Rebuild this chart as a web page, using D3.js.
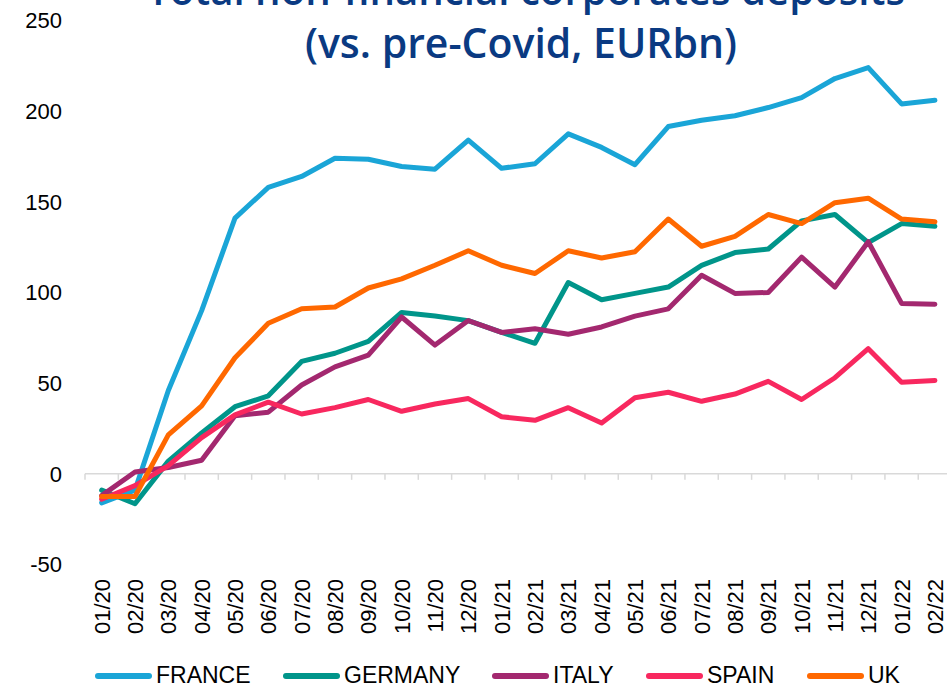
<!DOCTYPE html>
<html>
<head>
<meta charset="utf-8">
<script src="https://cdn.jsdelivr.net/npm/d3@7"></script>
<style>
  html, body { margin: 0; padding: 0; background: #fff; }
  #chart { width: 947px; height: 686px; overflow: hidden; }
</style>
</head>
<body>
<div id="chart"></div>
<script>
// Data (EURbn vs. pre-Covid)
const months = ["01/20","02/20","03/20","04/20","05/20","06/20","07/20","08/20","09/20","10/20","11/20","12/20",
                "01/21","02/21","03/21","04/21","05/21","06/21","07/21","08/21","09/21","10/21","11/21","12/21",
                "01/22","02/22"];
const seriesNames = ["FRANCE", "GERMANY", "ITALY", "SPAIN", "UK"];
const france  = [-16, -9, 46, 90, 141, 158, 164, 174, 173.5, 169.5, 168, 184, 168.5, 171, 187.5, 180, 170.5, 191.5, 195, 197.5, 202, 207.5, 218, 224, 204, 206];
const germany = [-9, -16.5, 7, 22.5, 37, 43, 62, 66.5, 73, 89, 87, 84.5, 78, 72, 105.5, 96, 99.5, 103, 115, 122, 124, 139.5, 143, 127.5, 138, 136.5];
const italy   = [-12, 1, 3.5, 7.5, 32, 34, 49, 59, 65.5, 86.5, 71, 84.5, 78, 80, 77, 81, 87, 91, 109.5, 99.5, 100, 119.5, 103, 128, 94, 93.5];
const spain   = [-14, -6.5, 4.5, 20, 32.5, 39.5, 33, 36.5, 41, 34.5, 38.5, 41.5, 31.5, 29.5, 36.5, 28, 42, 45, 40, 44, 51, 41, 53, 69, 50.5, 51.5];
const uk      = [-12.5, -12.5, 21.5, 37.5, 64, 83, 91, 92, 102.5, 107.5, 115, 123, 115, 110.5, 123, 119, 122.5, 140.5, 125.5, 131, 143, 138, 149.5, 152, 140.5, 139];
const yTicks = [-50, 0, 50, 100, 150, 200, 250];
const titleLines = ["Total non-financial corporates deposits", "(vs. pre-Covid, EURbn)"];

const seriesValues = [france, germany, italy, spain, uk];
const colors = ["#1aa5d7", "#00958a", "#a3286f", "#f8285f", "#ff6800"];

const width = 947, height = 686;

const svg = d3.select("#chart")
    .append("svg")
    .attr("width", width)
    .attr("height", height)
    .attr("viewBox", `0 0 ${width} ${height}`);

const x = d3.scaleBand()
    .domain(months)
    .range([85, 85 + months.length * 33.33])
    .paddingInner(0)
    .paddingOuter(0);

const y = d3.scaleLinear()
    .domain([-50, 250])
    .range([564.5, 20.5]);

const xc = d => x(d) + x.bandwidth() / 2;

// Title (the top line is clipped by the frame in the original)
svg.append("g")
    .selectAll("text")
    .data(titleLines)
    .join("text")
    .attr("x", (d, i) => i === 0 ? 526 : 521)
    .attr("y", (d, i) => i === 0 ? 5 : 58)
    .attr("text-anchor", "middle")
    .attr("font-family", "'Open Sans', 'Noto Sans', sans-serif")
    .attr("font-weight", 600)
    .attr("font-size", "41px")
    .attr("fill", "#0a3a82")
    .attr("textLength", (d, i) => i === 0 ? 758 : 432)
    .attr("lengthAdjust", "spacingAndGlyphs")
    .text(d => d);

// Y axis labels only
svg.append("g")
    .selectAll("text")
    .data(yTicks)
    .join("text")
    .attr("x", 62)
    .attr("y", d => y(d))
    .attr("dy", "0.36em")
    .attr("text-anchor", "end")
    .attr("font-family", "'Liberation Sans', Arial, sans-serif")
    .attr("font-size", "22px")
    .attr("fill", "#000")
    .text(d => d);

// Zero axis line with category boundary ticks
const axisG = svg.append("g").attr("transform", `translate(0,${y(0)})`);
axisG.append("line")
    .attr("x1", x.range()[0])
    .attr("x2", x.range()[1])
    .attr("stroke", "#d9d9d9")
    .attr("stroke-width", 1.5);
axisG.selectAll("line.tick")
    .data(months.concat(["end"]))
    .join("line")
    .attr("class", "tick")
    .attr("x1", (d, i) => x.range()[0] + i * x.step())
    .attr("x2", (d, i) => x.range()[0] + i * x.step())
    .attr("y1", 0)
    .attr("y2", 6)
    .attr("stroke", "#d9d9d9")
    .attr("stroke-width", 1.5);

// X labels, rotated
svg.append("g")
    .selectAll("text")
    .data(months)
    .join("text")
    .attr("transform", d => `translate(${xc(d) + 8},579) rotate(-90)`)
    .attr("text-anchor", "end")
    .attr("font-family", "'Liberation Sans', Arial, sans-serif")
    .attr("font-size", "22px")
    .attr("fill", "#000")
    .text(d => d);

// Series lines
const line = d3.line()
    .x((d, i) => xc(months[i]))
    .y(d => y(d));

svg.append("g")
    .selectAll("path")
    .data(seriesValues)
    .join("path")
    .attr("d", d => line(d))
    .attr("fill", "none")
    .attr("stroke", (d, i) => colors[i])
    .attr("stroke-width", 5)
    .attr("stroke-linejoin", "round")
    .attr("stroke-linecap", "round");

// Legend
const legendX = [97, 285, 494, 648, 809];
const legend = svg.append("g")
    .selectAll("g")
    .data(seriesNames)
    .join("g")
    .attr("transform", (d, i) => `translate(${legendX[i]},676)`);

legend.append("line")
    .attr("x1", 1)
    .attr("x2", 52)
    .attr("stroke", (d, i) => colors[i])
    .attr("stroke-width", 6)
    .attr("stroke-linecap", "round");

legend.append("text")
    .attr("x", 59)
    .attr("y", 7)
    .attr("font-family", "'Liberation Sans', Arial, sans-serif")
    .attr("font-size", "23px")
    .attr("fill", "#000")
    .text(d => d);
</script>
</body>
</html>
